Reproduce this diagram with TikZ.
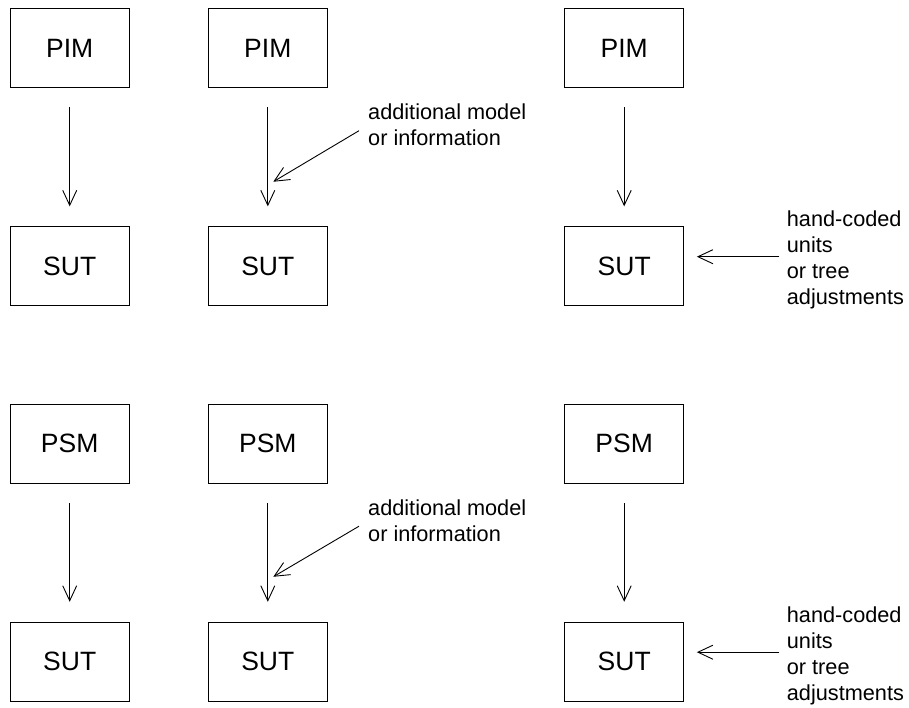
\documentclass[tikz,border=0pt]{standalone}
\usepackage{fontspec}
\setmainfont{Liberation Sans}
\usetikzlibrary{arrows.meta}

\begin{document}
\begin{tikzpicture}[x=1pt,y=-1pt,
  box/.style={draw,line width=0.9pt,minimum width=119pt,minimum height=79pt,inner sep=0pt,font=\fontsize{26.5}{30}\selectfont},
  note/.style={anchor=west,align=left,inner ysep=0pt,font=\fontsize{21.7}{26}\selectfont},
  arr/.style={-{Straight Barb[length=15pt,width=14pt]},line width=0.9pt}]
\useasboundingbox (0,0) rectangle (909,707);
% upper half
\node[box] (pim1) at (69.7,48) {PIM};
\node[box] (pim2) at (267.8,48) {PIM};
\node[box] (pim3) at (624.2,48) {PIM};
\node[box] (sut1) at (69.7,266.3) {SUT};
\node[box] (sut2) at (267.8,266.3) {SUT};
\node[box] (sut3) at (624.2,266.3) {SUT};
\draw[arr,shorten <=19.5pt,shorten >=20pt] (pim1) -- (sut1);
\draw[arr,shorten <=19.5pt,shorten >=20pt] (pim2) -- (sut2);
\draw[arr,shorten <=19.5pt,shorten >=20pt] (pim3) -- (sut3);
\node[note,inner xsep=9pt] (info1) at (359,125) {additional model\\or information};
\coordinate (join1) at (267.8,185);
\draw[arr,shorten >=6.4pt] ([yshift=-5.7pt]info1.west) -- (join1);
\node[note,inner xsep=7.4pt] (hand1) at (779.3,260.3) {hand-coded\\units\\or tree\\adjustments};
\draw[arr,shorten >=12.7pt] ([yshift=3.6pt]hand1.west) -- ([yshift=3.6pt]hand1.west -| sut3.east);
% lower half
\node[box] (psm1) at (69.7,443.8) {PSM};
\node[box] (psm2) at (267.8,443.8) {PSM};
\node[box] (psm3) at (624.2,443.8) {PSM};
\node[box] (sut4) at (69.7,661.7) {SUT};
\node[box] (sut5) at (267.8,661.7) {SUT};
\node[box] (sut6) at (624.2,661.7) {SUT};
\draw[arr,shorten <=19.5pt,shorten >=20pt] (psm1) -- (sut4);
\draw[arr,shorten <=19.5pt,shorten >=20pt] (psm2) -- (sut5);
\draw[arr,shorten <=19.5pt,shorten >=20pt] (psm3) -- (sut6);
\node[note,inner xsep=9pt] (info2) at (359,520.5) {additional model\\or information};
\coordinate (join2) at (267.8,580);
\draw[arr,shorten >=6.4pt] ([yshift=-5.7pt]info2.west) -- (join2);
\node[note,inner xsep=7.4pt] (hand2) at (779.3,655.8) {hand-coded\\units\\or tree\\adjustments};
\draw[arr,shorten >=12.7pt] ([yshift=3.6pt]hand2.west) -- ([yshift=3.6pt]hand2.west -| sut6.east);
\end{tikzpicture}
\end{document}
